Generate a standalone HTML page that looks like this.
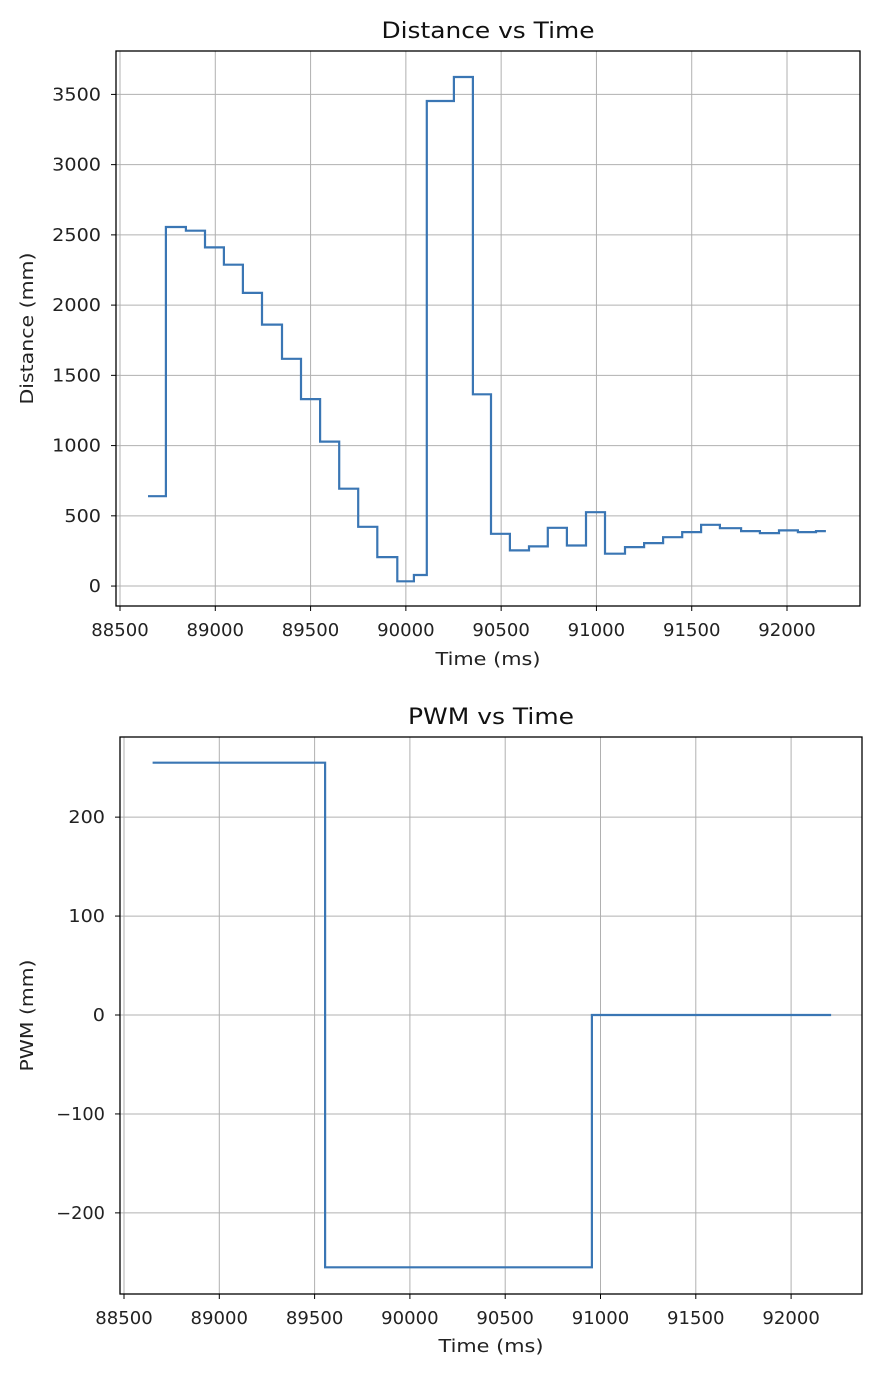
<!DOCTYPE html>
<html><head><meta charset="utf-8"><style>
body{margin:0;background:#fff;}
svg{display:block;font-family:"DejaVu Sans","Liberation Sans",sans-serif;}
</style></head><body>
<svg id="c" width="896" height="1380" viewBox="0 0 896 1380"></svg>
<script>
const distTimes=[88647,88741,88846,88946,89045,89145,89245,89350,89450,89550,89650,89750,89850,89955,90042,90110,90252,90352,90447,90546,90646,90745,90845,90945,91045,91150,91250,91350,91450,91549,91648,91759,91858,91958,92057,92152];
const distEnd=92204;
const distValues=[640,2556,2530,2411,2288,2087,1861,1618,1331,1028,693,422,206,34,79,3453,3624,1365,372,254,282,415,289,526,230,277,306,348,384,436,412,391,377,396,384,391];
const pwmTimes=[88650,89555,90955];
const pwmEnd=92210;
const pwmValues=[255,-255,0];
const xTicks=[88500,89000,89500,90000,90500,91000,91500,92000];
const distYTicks=[0,500,1000,1500,2000,2500,3000,3500];
const pwmYTicks=[-200,-100,0,100,200];

const svg=document.getElementById('c');
const NS='http://www.w3.org/2000/svg';
function mk(tag,attrs,parent){const e=document.createElementNS(NS,tag);for(const k in attrs)e.setAttribute(k,attrs[k]);(parent||svg).appendChild(e);return e;}

function chart(cfg){
  const g=mk('g',{});
  
  
  const {L,R,T,B,x0,x1,y0,y1}=cfg;
  const sx=v=>L+(v-x0)/(x1-x0)*(R-L);
  const sy=v=>B-(v-y0)/(y1-y0)*(B-T);
  xTicks.forEach(t=>{
    const x=sx(t);
    const gl=mk('line',{x1:x,x2:x,y1:T,y2:B,stroke:'#b0b0b0','stroke-width':1},g);
    
    
    mk('line',{x1:x,x2:x,y1:B,y2:B+5,stroke:'#000','stroke-width':1},g);
    const s=String(t);
    const tx=mk('text',{x:x,y:B+30,'text-anchor':'middle','font-size':17.5,fill:'#222',textLength:s.length*11.5,lengthAdjust:'spacingAndGlyphs'},g);
    tx.textContent=s;
    
    
  });
  cfg.yTicks.forEach(t=>{
    const y=sy(t);
    const gl=mk('line',{x1:L,x2:R,y1:y,y2:y,stroke:'#b0b0b0','stroke-width':1},g);
    
    
    mk('line',{x1:L-5,x2:L,y1:y,y2:y,stroke:'#000','stroke-width':1},g);
    const s=t<0?'\u2212'+(-t):String(t);
    const tx=mk('text',{x:L-15,y:y+6,'text-anchor':'end','font-size':17.5,fill:'#222',textLength:s.length*12.2,lengthAdjust:'spacingAndGlyphs'},g);
    tx.textContent=s;
    
    
  });
  let d='';
  cfg.times.forEach((t,i)=>{
    const x=sx(t),y=sy(cfg.values[i]);
    d+=(i===0?'M':'L')+x.toFixed(1)+','+y.toFixed(1);
    const xn=sx(i<cfg.times.length-1?cfg.times[i+1]:cfg.end);
    d+='L'+xn.toFixed(1)+','+y.toFixed(1);
  });
  const p=mk('path',{d:d,fill:'none',stroke:'#3a76b4','stroke-width':2.2,'stroke-linejoin':'miter'},g);
  
  
  const fr=mk('rect',{x:L,y:T,width:R-L,height:B-T,fill:'none',stroke:'#000','stroke-width':1.3},g);
  
  
  const ti=mk('text',{x:(L+R)/2,y:T-13,'text-anchor':'middle','font-size':22,fill:'#111',textLength:cfg.titleW,lengthAdjust:'spacingAndGlyphs'},g);
  ti.textContent=cfg.title;
  
  
  const xl=mk('text',{x:(L+R)/2,y:B+cfg.xlOff,'text-anchor':'middle','font-size':18,fill:'#222',textLength:105,lengthAdjust:'spacingAndGlyphs'},g);
  xl.textContent='Time (ms)';
  
  
  const cy=(T+B)/2;
  const yl=mk('text',{x:33,y:cy,'text-anchor':'middle','font-size':18,fill:'#222',transform:'rotate(-90 33 '+cy+')',textLength:cfg.ylW,lengthAdjust:'spacingAndGlyphs'},g);
  yl.textContent=cfg.ylabel;
  
  
}
chart({name:'distance-chart',L:116,R:860,T:51,B:606,x0:88479,x1:92383,y0:-142,y1:3809,yTicks:distYTicks,times:distTimes,values:distValues,end:distEnd,title:'Distance vs Time',titleW:213,ylabel:'Distance (mm)',ylW:152,xlOff:59});
chart({name:'pwm-chart',L:120,R:862,T:737,B:1294,x0:88479,x1:92372,y0:-282,y1:281,yTicks:pwmYTicks,times:pwmTimes,values:pwmValues,end:pwmEnd,title:'PWM vs Time',titleW:166,ylabel:'PWM (mm)',ylW:112,xlOff:58});
</script>
</body></html>
